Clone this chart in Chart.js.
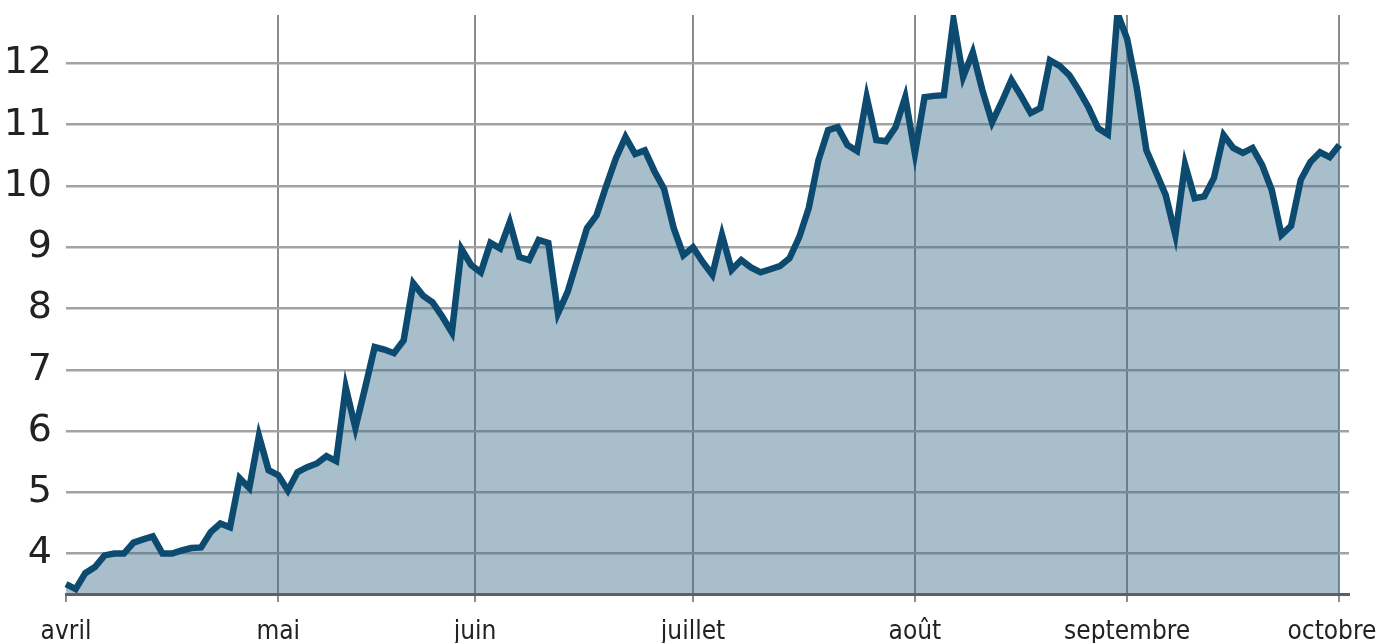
<!DOCTYPE html>
<html>
<head>
<meta charset="utf-8">
<script src="https://cdn.jsdelivr.net/npm/chart.js@4.4.0/dist/chart.umd.min.js"></script>
<style>
  html, body { margin: 0; padding: 0; background: #fff; }
  #wrap { width: 1378px; height: 643px; }
</style>
</head>
<body>
<div id="wrap"><canvas id="chart"></canvas></div>
<script>
// Month labels and the trading day where each month starts
const monthLabels = ['avril', 'mai', 'juin', 'juillet', 'août', 'septembre', 'octobre\u00a0\u00a0'];
const monthTicks = [0, 22, 42.4, 65, 88, 110, 132];

// Y axis ticks and range
const yTicks = [4, 5, 6, 7, 8, 9, 10, 11, 12];
const yMin = 3.34;
const yMax = 12.79;

// One value per trading day
const values = [
    3.50, 3.42, 3.68, 3.78, 3.97, 4.00, 4.00, 4.18, 4.23, 4.28,
    4.00, 4.00, 4.05, 4.09, 4.10, 4.35, 4.49, 4.43, 5.23, 5.07,
    5.92, 5.36, 5.28, 5.03, 5.33, 5.41, 5.47, 5.59, 5.51, 6.71,
    6.05, 6.70, 7.37, 7.33, 7.27, 7.48, 8.41, 8.21, 8.10, 7.87,
    7.61, 8.97, 8.71, 8.59, 9.07, 8.98, 9.41, 8.84, 8.79, 9.12,
    9.07, 7.92, 8.27, 8.79, 9.31, 9.52, 10.00, 10.45, 10.80, 10.52,
    10.58, 10.24, 9.95, 9.31, 8.87, 9.00, 8.76, 8.55, 9.20, 8.63,
    8.79, 8.67, 8.59, 8.64, 8.69, 8.82, 9.16, 9.64, 10.42, 10.91,
    10.96, 10.67, 10.57, 11.45, 10.75, 10.73, 10.96, 11.45, 10.53, 11.45,
    11.47, 11.48, 12.71, 11.78, 12.18, 11.56, 11.04, 11.37, 11.73, 11.47,
    11.19, 11.27, 12.05, 11.96, 11.81, 11.56, 11.28, 10.94, 10.84, 12.82,
    12.40, 11.60, 10.58, 10.22, 9.85, 9.20, 10.35, 9.80, 9.83, 10.13,
    10.83, 10.62, 10.54, 10.62, 10.34, 9.93, 9.20, 9.35, 10.10, 10.39,
    10.55, 10.47, 10.67
];

const chart = new Chart(document.getElementById('chart'), {
    type: 'line',
    data: {
        datasets: [{
            data: values.map((v, i) => ({ x: i, y: v })),
            borderColor: '#0c4a70',
            borderWidth: 6.5,
            backgroundColor: 'rgba(65, 110, 140, 0.45)',
            fill: 'start',
            pointRadius: 0,
            tension: 0,
            clip: { left: 6, top: 0, right: 6, bottom: 0 },
        }]
    },
    options: {
        responsive: true,
        maintainAspectRatio: false,
        animation: false,
        layout: { padding: { top: 15, right: 29, left: 0, bottom: 0 } },
        plugins: {
            legend: { display: false },
            tooltip: { enabled: false },
        },
        scales: {
            x: {
                type: 'linear',
                min: 0,
                max: 133,
                afterBuildTicks: axis => { axis.ticks = monthTicks.map(v => ({ value: v })); },
                afterFit: axis => {
                    axis.height = 49;
                    axis.paddingLeft = 0;
                    axis.paddingRight = 0;
                },
                ticks: {
                    autoSkip: false,
                    maxRotation: 0,
                    padding: 15,
                    color: '#222',
                    font: { family: '"DejaVu Sans Condensed", "Liberation Sans"', size: 26 },
                    callback: v => monthLabels[monthTicks.indexOf(v)],
                },
                grid: {
                    color: ctx => ctx.index === 0 ? 'rgba(0,0,0,0)' : '#8c8c8c',
                    tickColor: '#8c8c8c',
                    lineWidth: 2,
                    tickLength: 8,
                },
                border: { display: true, color: '#5f5f5f', width: 3 },
            },
            y: {
                min: yMin,
                max: yMax,
                afterBuildTicks: axis => { axis.ticks = yTicks.map(v => ({ value: v })); },
                afterFit: axis => {
                    axis.width = 66;
                    axis.paddingTop = 0;
                    axis.paddingBottom = 0;
                },
                ticks: {
                    padding: 14,
                    color: '#222',
                    font: { family: 'DejaVu Sans', size: 38 },
                },
                grid: { color: '#a3a3a3', lineWidth: 2.5, drawTicks: false },
                border: { display: false },
            }
        }
    }
});
</script>
</body>
</html>
